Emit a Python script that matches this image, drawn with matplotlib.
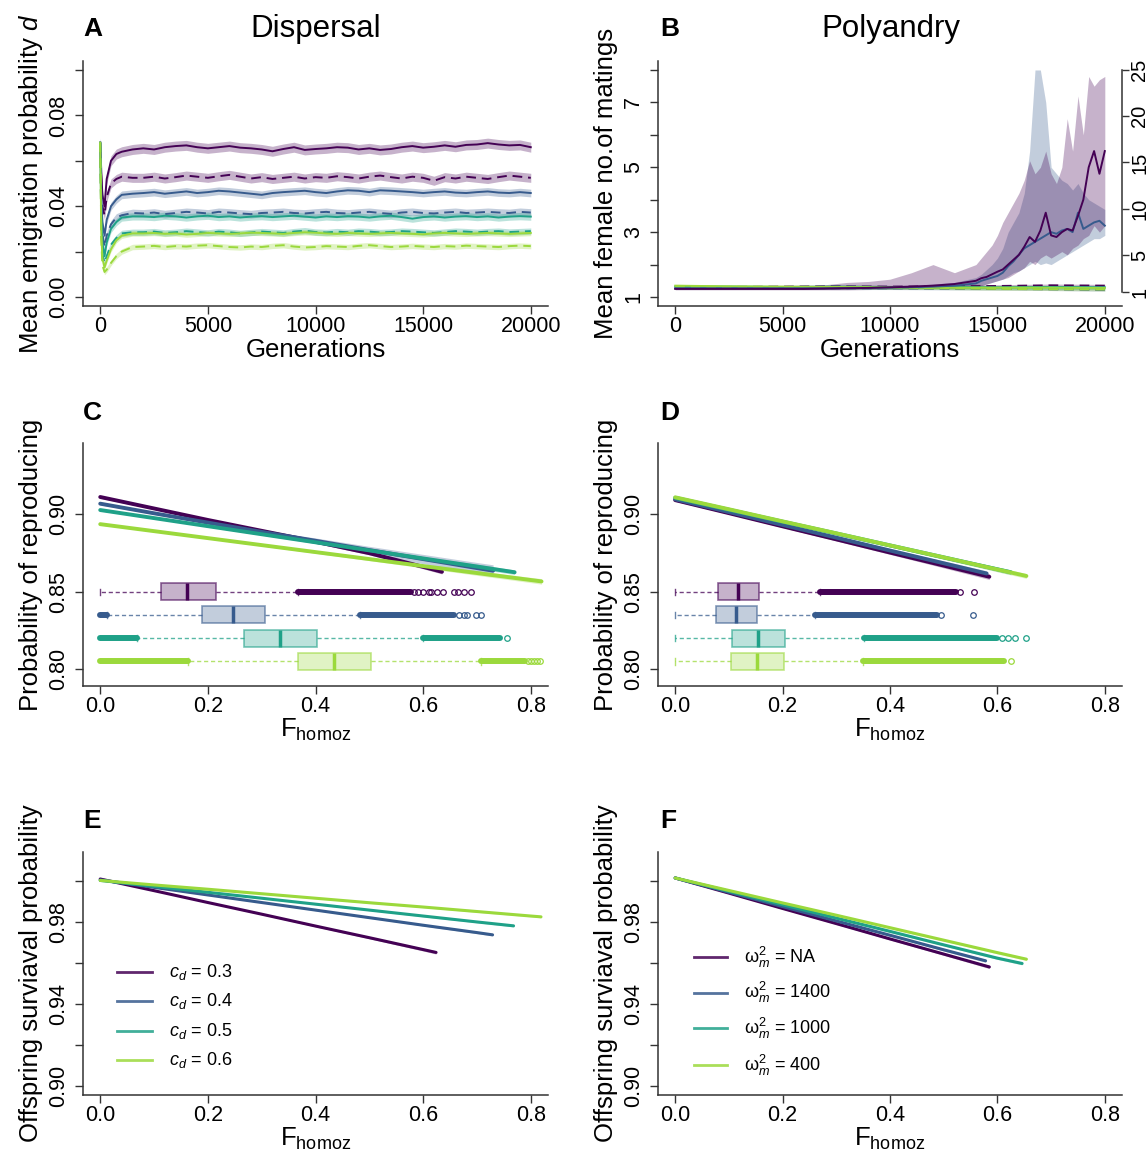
import numpy as np
import matplotlib
matplotlib.use("Agg")
from matplotlib import pyplot as plt
from matplotlib.colors import to_rgba

plt.rcParams['font.family'] = ['Liberation Sans', 'DejaVu Sans']
plt.rcParams['mathtext.fontset'] = 'custom'
plt.rcParams['mathtext.rm'] = 'Liberation Sans'
plt.rcParams['mathtext.it'] = 'Liberation Sans:italic'
plt.rcParams['mathtext.bf'] = 'Liberation Sans:bold'

# ---------------- data ----------------
# Panel A: mean emigration probability d (solid / dashed, one per cost level)
gens_A = [0, 50, 100, 200, 300, 500, 750, 1000, 1500] + list(range(2000, 20001, 500))
emig_solid = [
    [.068, .055, .045, .040, .052, .060, .063, .064, .065,
     .0655, .0650, .0660, .0665, .0668, .0660, .0655, .0660, .0665, .0658,
     .0655, .0650, .0642, .0652, .0660, .0648, .0652, .0655, .0660, .0658,
     .0650, .0655, .0648, .0652, .0660, .0665, .0658, .0662, .0668, .0662,
     .0670, .0672, .0678, .0672, .0668, .0670, .0660],
    [.068, .045, .033, .027, .034, .040, .043, .045, .0455,
     .0458, .0462, .0455, .0460, .0465, .0458, .0462, .0468, .0465, .0460,
     .0455, .0450, .0458, .0462, .0465, .0468, .0462, .0458, .0465, .0470,
     .0468, .0462, .0470, .0468, .0465, .0462, .0458, .0462, .0465, .0460,
     .0458, .0462, .0465, .0460, .0458, .0462, .0458],
    [.068, .035, .024, .018, .024, .030, .033, .035, .0355,
     .0355, .0352, .0358, .0355, .0350, .0355, .0358, .0352, .0355, .0350,
     .0354, .0356, .0352, .0355, .0358, .0354, .0350, .0355, .0352, .0356,
     .0354, .0350, .0355, .0358, .0352, .0345, .0352, .0355, .0350, .0354,
     .0356, .0352, .0355, .0350, .0354, .0356, .0354],
    [.068, .028, .017, .013, .016, .021, .025, .027, .028,
     .0280, .0282, .0278, .0280, .0275, .0278, .0282, .0280, .0278, .0280,
     .0283, .0282, .0280, .0278, .0282, .0285, .0283, .0280, .0278, .0282,
     .0280, .0278, .0280, .0282, .0280, .0278, .0276, .0280, .0282, .0280,
     .0278, .0280, .0282, .0280, .0278, .0280, .0282],
]
emig_dashed = [
    [.068, .050, .040, .036, .044, .050, .052, .053, .0525,
     .0525, .0530, .0522, .0528, .0535, .0530, .0525, .0532, .0538, .0530,
     .0522, .0528, .0520, .0525, .0530, .0522, .0528, .0525, .0532, .0528,
     .0522, .0530, .0535, .0528, .0522, .0530, .0525, .0512, .0528, .0522,
     .0530, .0525, .0520, .0528, .0535, .0530, .0525],
    [.068, .040, .028, .022, .027, .032, .035, .036, .037,
     .0368, .0372, .0365, .0370, .0375, .0372, .0368, .0375, .0372, .0368,
     .0365, .0370, .0372, .0375, .0370, .0368, .0372, .0375, .0370, .0368,
     .0372, .0375, .0370, .0366, .0372, .0375, .0370, .0368, .0372, .0375,
     .0370, .0372, .0375, .0372, .0370, .0375, .0372],
    [.068, .030, .019, .015, .018, .023, .026, .028, .0285,
     .0285, .0288, .0282, .0285, .0290, .0286, .0282, .0288, .0285, .0280,
     .0284, .0288, .0285, .0282, .0288, .0292, .0286, .0284, .0288, .0285,
     .0290, .0288, .0284, .0286, .0290, .0288, .0285, .0282, .0286, .0290,
     .0288, .0285, .0288, .0290, .0286, .0288, .0290],
    [.068, .025, .014, .011, .012, .015, .018, .020, .022,
     .0222, .0225, .0220, .0224, .0222, .0226, .0228, .0224, .0220, .0218,
     .0222, .0220, .0225, .0228, .0222, .0218, .0220, .0224, .0222, .0220,
     .0225, .0228, .0224, .0220, .0222, .0225, .0222, .0220, .0224, .0222,
     .0226, .0224, .0222, .0220, .0224, .0226, .0224],
]
emig_ci_solid = [0.0022, 0.0017, 0.0016, 0.0012]
emig_ci_dashed = [0.0020, 0.0017, 0.0014, 0.0012]

# Panel B: mean female number of matings
gens_B = list(range(0, 14000, 1000)) + list(range(14000, 20001, 250))
mat_purple = [1.25, 1.25, 1.25, 1.25, 1.25, 1.25, 1.25, 1.26, 1.27, 1.28, 1.30, 1.32, 1.35, 1.40,
              1.50, 1.58, 1.62, 1.70, 1.78, 1.85, 2.00, 2.15, 2.30, 2.55, 2.85, 2.70, 3.05, 3.60,
              2.90, 2.85, 3.00, 3.10, 3.05, 3.50, 4.00, 5.00, 5.50, 4.80, 5.50]
mat_purple_hi = [1.28, 1.28, 1.29, 1.30, 1.31, 1.32, 1.33, 1.38, 1.45, 1.48, 1.55, 1.75, 2.00, 1.75,
                 2.00, 2.20, 2.40, 2.60, 2.90, 3.30, 3.60, 3.90, 4.20, 4.60, 5.20, 4.80, 5.00, 5.50,
                 4.80, 4.50, 5.00, 6.50, 5.50, 7.20, 6.00, 7.80, 7.50, 7.70, 7.80]
mat_purple_lo = [1.22, 1.22, 1.22, 1.22, 1.22, 1.22, 1.22, 1.22, 1.22, 1.23, 1.24, 1.25, 1.26, 1.28,
                 1.30, 1.35, 1.40, 1.45, 1.50, 1.55, 1.60, 1.70, 1.80, 1.90, 2.10, 2.00, 2.20, 2.30,
                 2.20, 2.30, 2.40, 2.30, 2.50, 2.60, 2.80, 2.90, 3.20, 3.00, 3.20]
mat_blue = [1.27, 1.27, 1.27, 1.27, 1.27, 1.27, 1.27, 1.27, 1.28, 1.28, 1.29, 1.30, 1.32, 1.35,
            1.42, 1.50, 1.55, 1.60, 1.65, 1.75, 1.95, 2.10, 2.30, 2.50, 2.60, 2.70, 2.80, 2.90,
            3.00, 2.95, 3.05, 3.10, 3.00, 3.60, 3.10, 3.20, 3.30, 3.35, 3.20]
mat_blue_hi = [1.30, 1.30, 1.30, 1.30, 1.30, 1.30, 1.30, 1.30, 1.31, 1.32, 1.33, 1.35, 1.40, 1.45,
               1.60, 1.70, 1.85, 2.00, 2.20, 2.50, 3.00, 3.30, 3.60, 4.20, 5.50, 8.00, 8.00, 7.00,
               5.00, 4.80, 4.60, 4.50, 4.30, 4.50, 4.20, 4.00, 3.90, 3.80, 3.70]
mat_blue_lo = [1.24, 1.24, 1.24, 1.24, 1.24, 1.24, 1.24, 1.24, 1.25, 1.25, 1.25, 1.26, 1.27, 1.28,
               1.30, 1.35, 1.40, 1.45, 1.50, 1.55, 1.65, 1.75, 1.80, 1.90, 2.00, 2.10, 2.00, 2.05,
               2.00, 2.10, 2.20, 2.30, 2.40, 2.50, 2.60, 2.70, 2.80, 2.80, 2.90]
# series that stay flat (purple dashed, blue dashed, teal solid/dashed, lime solid/dashed)
gens_B_flat = [0, 2500, 5000, 7500, 10000, 12500, 15000, 17500, 20000]
mat_flat = [
    [1.30, 1.31, 1.32, 1.33, 1.32, 1.33, 1.34, 1.36, 1.35],
    [1.28, 1.29, 1.28, 1.27, 1.27, 1.26, 1.25, 1.24, 1.22],
    [1.32, 1.32, 1.31, 1.32, 1.31, 1.31, 1.30, 1.31, 1.30],
    [1.30, 1.30, 1.29, 1.30, 1.29, 1.28, 1.28, 1.27, 1.27],
    [1.35, 1.33, 1.32, 1.31, 1.30, 1.29, 1.29, 1.29, 1.28],
    [1.32, 1.31, 1.30, 1.29, 1.28, 1.27, 1.25, 1.24, 1.23],
]
mat_flat_color = [0, 1, 2, 2, 3, 3]
mat_flat_dashed = [True, True, False, True, False, True]
mat_flat_ci = 0.04
right_ticks_B = [1, 5, 10, 15, 20, 25]

# Panel C: probability of reproducing vs F_homoz (dispersal)
repro_x_C = [
    [0, 0.1, 0.2, 0.3, 0.4, 0.5, 0.6, 0.635],
    [0, 0.1, 0.2, 0.3, 0.4, 0.5, 0.6, 0.7, 0.73],
    [0, 0.1, 0.2, 0.3, 0.4, 0.5, 0.6, 0.7, 0.77],
    [0, 0.1, 0.2, 0.3, 0.4, 0.5, 0.6, 0.7, 0.8, 0.82],
]
repro_y_C = [
    [0.9110, 0.9036, 0.8962, 0.8892, 0.8822, 0.8748, 0.8660, 0.8628],
    [0.9067, 0.9005, 0.8945, 0.8885, 0.8828, 0.8768, 0.8710, 0.8652, 0.8635],
    [0.9026, 0.8974, 0.8922, 0.8870, 0.8818, 0.8766, 0.8714, 0.8662, 0.8625],
    [0.8935, 0.8890, 0.8845, 0.8800, 0.8755, 0.8710, 0.8665, 0.8620, 0.8575, 0.8566],
]
repro_ci_C = [
    [0.0008, 0.0006, 0.0006, 0.0007, 0.0009, 0.0011, 0.0013, 0.0014],
    [0.0008, 0.0007, 0.0008, 0.0012, 0.0018, 0.0024, 0.0030, 0.0036, 0.0038],
    [0.0006, 0.0005, 0.0005, 0.0006, 0.0008, 0.0010, 0.0012, 0.0014, 0.0015],
    [0.0006, 0.0005, 0.0005, 0.0006, 0.0008, 0.0010, 0.0012, 0.0015, 0.0017, 0.0018],
]
# boxplots of F_homoz: whisker low, q1, median, q3, whisker high
box_C = [
    [0.000, 0.113, 0.162, 0.215, 0.367],
    [0.012, 0.190, 0.247, 0.307, 0.482],
    [0.069, 0.267, 0.334, 0.403, 0.600],
    [0.164, 0.367, 0.435, 0.504, 0.707],
]
dense_C = [
    [(0.367, 0.577)],
    [(0.0, 0.012), (0.482, 0.658)],
    [(0.0, 0.069), (0.600, 0.742)],
    [(0.0, 0.164), (0.707, 0.790)],
]
sparse_C = [
    [0.583, 0.590, 0.600, 0.610, 0.615, 0.625, 0.637, 0.658, 0.665, 0.675, 0.688],
    [0.666, 0.675, 0.682, 0.698, 0.708],
    [0.756],
    [0.795, 0.800, 0.806, 0.812, 0.817],
]
box_pos = [0.85, 0.835, 0.82, 0.805]

# Panel D: probability of reproducing vs F_homoz (polyandry)
repro_x_D = [
    [0, 0.1, 0.2, 0.3, 0.4, 0.5, 0.585],
    [0, 0.1, 0.2, 0.3, 0.4, 0.5, 0.58],
    [0, 0.1, 0.2, 0.3, 0.4, 0.5, 0.6, 0.625],
    [0, 0.1, 0.2, 0.3, 0.4, 0.5, 0.6, 0.654],
]
repro_y_D = [
    [0.9090, 0.9006, 0.8921, 0.8837, 0.8752, 0.8668, 0.8596],
    [0.9095, 0.9013, 0.8930, 0.8848, 0.8765, 0.8683, 0.8617],
    [0.9105, 0.9028, 0.8951, 0.8875, 0.8798, 0.8721, 0.8644, 0.8625],
    [0.9108, 0.9031, 0.8953, 0.8876, 0.8798, 0.8721, 0.8643, 0.8601],
]
repro_ci_D = [
    [0.0008, 0.0007, 0.0008, 0.0010, 0.0012, 0.0015, 0.0018],
    [0.0008, 0.0007, 0.0008, 0.0010, 0.0012, 0.0015, 0.0017],
    [0.0007, 0.0006, 0.0007, 0.0008, 0.0010, 0.0012, 0.0015, 0.0016],
    [0.0007, 0.0006, 0.0007, 0.0008, 0.0010, 0.0012, 0.0015, 0.0016],
]
box_D = [
    [0.0, 0.080, 0.117, 0.156, 0.270],
    [0.0, 0.076, 0.113, 0.152, 0.260],
    [0.0, 0.105, 0.154, 0.205, 0.351],
    [0.0, 0.103, 0.152, 0.202, 0.349],
]
dense_D = [
    [(0.270, 0.523)],
    [(0.260, 0.487)],
    [(0.351, 0.599)],
    [(0.349, 0.613)],
]
sparse_D = [
    [0.530, 0.556],
    [0.495, 0.554],
    [0.609, 0.620, 0.633, 0.654],
    [0.625],
]

# Panel E: offspring survival probability (dispersal)
surv_x_E = [
    [0, 0.1, 0.2, 0.3, 0.4, 0.5, 0.6, 0.624],
    [0, 0.1, 0.2, 0.3, 0.4, 0.5, 0.6, 0.7, 0.729],
    [0, 0.1, 0.2, 0.3, 0.4, 0.5, 0.6, 0.7, 0.768],
    [0, 0.1, 0.2, 0.3, 0.4, 0.5, 0.6, 0.7, 0.8, 0.819],
]
surv_y_E = [
    [1.0012, 0.9955, 0.9897, 0.9840, 0.9782, 0.9725, 0.9667, 0.9653],
    [1.0008, 0.9971, 0.9934, 0.9897, 0.9860, 0.9823, 0.9786, 0.9750, 0.9739],
    [1.0005, 0.9976, 0.9947, 0.9918, 0.9889, 0.9860, 0.9831, 0.9802, 0.9783],
    [1.0005, 0.9983, 0.9962, 0.9940, 0.9918, 0.9896, 0.9875, 0.9853, 0.9831, 0.9827],
]
surv_ci_E = [
    [0.0003, 0.0002, 0.0002, 0.0003, 0.0004, 0.0005, 0.0007, 0.0008],
    [0.0003, 0.0002, 0.0002, 0.0002, 0.0003, 0.0003, 0.0004, 0.0005, 0.0005],
    [0.0003, 0.0002, 0.0002, 0.0002, 0.0003, 0.0003, 0.0004, 0.0004, 0.0005],
    [0.0003, 0.0002, 0.0002, 0.0002, 0.0003, 0.0003, 0.0003, 0.0004, 0.0004, 0.0005],
]
labels_E = [r'$c_d$ = 0.3', r'$c_d$ = 0.4', r'$c_d$ = 0.5', r'$c_d$ = 0.6']

# Panel F: offspring survival probability (polyandry)
surv_x_F = [
    [0, 0.1, 0.2, 0.3, 0.4, 0.5, 0.585],
    [0, 0.1, 0.2, 0.3, 0.4, 0.5, 0.578],
    [0, 0.1, 0.2, 0.3, 0.4, 0.5, 0.6, 0.646],
    [0, 0.1, 0.2, 0.3, 0.4, 0.5, 0.6, 0.654],
]
surv_y_F = [
    [1.0017, 0.9943, 0.9868, 0.9794, 0.9719, 0.9645, 0.9582],
    [1.0017, 0.9947, 0.9877, 0.9807, 0.9737, 0.9666, 0.9612],
    [1.0017, 0.9952, 0.9886, 0.9821, 0.9756, 0.9690, 0.9625, 0.9599],
    [1.0017, 0.9956, 0.9895, 0.9835, 0.9774, 0.9713, 0.9652, 0.9620],
]
surv_ci_F = [
    [0.0003, 0.0003, 0.0003, 0.0004, 0.0005, 0.0006, 0.0008],
    [0.0003, 0.0003, 0.0003, 0.0004, 0.0005, 0.0006, 0.0007],
    [0.0003, 0.0003, 0.0003, 0.0004, 0.0005, 0.0005, 0.0006, 0.0007],
    [0.0003, 0.0003, 0.0003, 0.0004, 0.0005, 0.0005, 0.0006, 0.0007],
]
labels_F = [r'$\mathrm{\omega}^2_m$ = NA', r'$\mathrm{\omega}^2_m$ = 1400',
            r'$\mathrm{\omega}^2_m$ = 1000', r'$\mathrm{\omega}^2_m$ = 400']

# ---------------- style ----------------
colors = [plt.cm.viridis(v) for v in (0.0, 0.283, 0.567, 0.85)]
AXC = '#333333'
TICK_FS = 15.5
LAB_FS = 18.5
W, H = 1147, 1151


def make_axes(fig, left, top, right, bottom):
    ax = fig.add_axes([left / W, 1 - bottom / H, (right - left) / W, (bottom - top) / H])
    for s in ['top', 'right']:
        ax.spines[s].set_visible(False)
    for s in ['left', 'bottom']:
        ax.spines[s].set_color(AXC)
        ax.spines[s].set_linewidth(1.1)
    ax.tick_params(direction='out', length=6, width=1.0, color=AXC, labelsize=TICK_FS)
    ax.tick_params(axis='x', pad=1.5)
    ax.tick_params(axis='y', pad=4)
    ax.w_px = right - left
    ax.h_px = bottom - top
    return ax


def finish_axes(ax, xlim, xticks, xticklabels, ylim, yticks, yticklabels, xlabel, ylabel,
                xlab_top):
    ax.set_xlim(*xlim)
    ax.set_ylim(*ylim)
    ax.set_xticks(xticks, xticklabels)
    ax.set_yticks(yticks, yticklabels)
    plt.setp(ax.get_yticklabels(), rotation=90, va='center')
    # x label hangs below the tick labels, y label sits at a fixed distance from the axis
    ax.set_xlabel(xlabel, fontsize=LAB_FS, va='top')
    ax.xaxis.set_label_coords(0.5, -xlab_top / ax.h_px)
    ax.set_ylabel(ylabel, fontsize=LAB_FS, va='center')
    ax.yaxis.set_label_coords(-52 / ax.w_px, 0.5)


def draw_trends(ax, xs, ys, cis, lw):
    for x, y, ci, c in zip(xs, ys, cis, colors):
        y = np.asarray(y)
        ci = np.asarray(ci)
        ax.fill_between(x, y - ci, y + ci, color=c, alpha=0.3, lw=0)
    for x, y, c in zip(xs, ys, colors):
        ax.plot(x, y, color=c, lw=lw, solid_capstyle='round')


def draw_boxes(ax, stats, dense, sparse):
    for st, runs, pts, pos, c in zip(stats, dense, sparse, box_pos, colors):
        lo, q1, med, q3, hi = st
        bx = dict(whislo=lo, q1=q1, med=med, q3=q3, whishi=hi, fliers=[])
        ax.bxp([bx], positions=[pos], widths=0.011, orientation='horizontal',
               patch_artist=True, showfliers=False, manage_ticks=False, capwidths=0.004,
               boxprops=dict(facecolor=to_rgba(c, 0.3), edgecolor=to_rgba(c, 0.6), linewidth=1.2),
               medianprops=dict(color=c, lw=2.5, solid_capstyle='butt'),
               whiskerprops=dict(color=to_rgba(c, 0.75), lw=1.0, ls=(0, (3, 2))),
               capprops=dict(color=to_rgba(c, 0.75), lw=1.0))
        # long runs of overlapping outliers look like a thick bar
        for x0, x1 in runs:
            ax.plot([x0, x1], [pos, pos], color=c, lw=4.3, solid_capstyle='round')
        ax.plot(pts, [pos] * len(pts), 'o', ms=4, mfc='none', mec=c, mew=0.9)


def draw_legend(ax, labels, x0, x1, xt, rows):
    for lab, y, c in zip(labels, rows, colors):
        ax.plot([x0, x1], [y, y], transform=ax.transAxes, color=c, lw=2, alpha=0.85,
                clip_on=False)
        ax.text(xt, y, lab, transform=ax.transAxes, fontsize=13, va='center', ha='left')


fig = plt.figure(figsize=(W / 100, H / 100), dpi=100)

gen_ticks = [0, 5000, 10000, 15000, 20000]
gen_labels = ['0', '5000', '10000', '15000', '20000']
f_ticks = [0.0, 0.2, 0.4, 0.6, 0.8]
f_labels = ['0.0', '0.2', '0.4', '0.6', '0.8']
f_label = r'$\mathrm{F_{homoz}}$'

# ---- A ----
axA = make_axes(fig, 83, 61, 548, 306)
for i in range(4):
    for ys, ci in ((emig_solid[i], emig_ci_solid[i]), (emig_dashed[i], emig_ci_dashed[i])):
        y = np.asarray(ys)
        axA.fill_between(gens_A, y - ci, y + ci, color=colors[i], alpha=0.3, lw=0)
for i in range(4):
    axA.plot(gens_A, emig_solid[i], color=colors[i], lw=1.4)
    axA.plot(gens_A, emig_dashed[i], color=colors[i], lw=1.4, dashes=(5, 3))
finish_axes(axA, (-800, 20800), gen_ticks, gen_labels, (-0.004, 0.104),
            [0, 0.02, 0.04, 0.06, 0.08, 0.10], ['0.00', '', '0.04', '', '0.08', ''],
            'Generations', r'Mean emigration probability $d$', 32)

# ---- B ----
axB = make_axes(fig, 658, 61, 1122, 306)
for lo, hi, c in ((mat_blue_lo, mat_blue_hi, colors[1]), (mat_purple_lo, mat_purple_hi, colors[0])):
    axB.fill_between(gens_B, lo, hi, color=c, alpha=0.3, lw=0)
for ys, ci_c in zip(mat_flat, mat_flat_color):
    y = np.asarray(ys)
    axB.fill_between(gens_B_flat, y - mat_flat_ci, y + mat_flat_ci, color=colors[ci_c],
                     alpha=0.3, lw=0)
for ys, ci_c, dashed in zip(mat_flat, mat_flat_color, mat_flat_dashed):
    if dashed:
        axB.plot(gens_B_flat, ys, color=colors[ci_c], lw=1.4, dashes=(5, 3))
    else:
        axB.plot(gens_B_flat, ys, color=colors[ci_c], lw=1.4)
axB.plot(gens_B, mat_blue, color=colors[1], lw=1.4)
axB.plot(gens_B, mat_purple, color=colors[0], lw=1.4)
finish_axes(axB, (-800, 20800), gen_ticks, gen_labels, (0.723, 8.277),
            [1, 2, 3, 4, 5, 6, 7, 8], ['1', '', '3', '', '5', '', '7', ''],
            'Generations', 'Mean female no.of matings', 32)
axR = axB.twinx()
axR.set_ylim(-0.51, 25.97)
axR.set_yticks(right_ticks_B, [str(t) for t in right_ticks_B])
for s in ['top', 'left', 'bottom']:
    axR.spines[s].set_visible(False)
axR.spines['right'].set_bounds(1, 25)
axR.spines['right'].set_color(AXC)
axR.spines['right'].set_linewidth(1.1)
axR.tick_params(direction='out', length=5, width=1.0, color=AXC, labelsize=TICK_FS - 1, pad=1)
plt.setp(axR.get_yticklabels(), rotation=90, va='center')

# ---- C ----
axC = make_axes(fig, 83, 443, 548, 686)
draw_trends(axC, repro_x_C, repro_y_C, repro_ci_C, 2.8)
draw_boxes(axC, box_C, dense_C, sparse_C)
finish_axes(axC, (-0.032, 0.832), f_ticks, f_labels, (0.7892, 0.9458),
            [0.80, 0.85, 0.90], ['0.80', '0.85', '0.90'], f_label,
            'Probability of reproducing', 31)

# ---- D ----
axD = make_axes(fig, 658, 443, 1122, 686)
draw_trends(axD, repro_x_D, repro_y_D, repro_ci_D, 2.8)
draw_boxes(axD, box_D, dense_D, sparse_D)
finish_axes(axD, (-0.032, 0.832), f_ticks, f_labels, (0.7892, 0.9458),
            [0.80, 0.85, 0.90], ['0.80', '0.85', '0.90'], f_label,
            'Probability of reproducing', 31)

# ---- E ----
surv_ticks = [0.90, 0.92, 0.94, 0.96, 0.98, 1.00]
surv_labels = ['0.90', '', '0.94', '', '0.98', '']
axE = make_axes(fig, 83, 852, 548, 1095)
draw_trends(axE, surv_x_E, surv_y_E, surv_ci_E, 2.2)
finish_axes(axE, (-0.032, 0.832), f_ticks, f_labels, (0.8956, 1.0144),
            surv_ticks, surv_labels, f_label, 'Offspring surviaval probability', 31)
draw_legend(axE, labels_E, 0.073, 0.148, 0.185, [0.508, 0.385, 0.264, 0.143])

# ---- F ----
axF = make_axes(fig, 658, 852, 1122, 1095)
draw_trends(axF, surv_x_F, surv_y_F, surv_ci_F, 2.2)
finish_axes(axF, (-0.032, 0.832), f_ticks, f_labels, (0.8956, 1.0144),
            surv_ticks, surv_labels, f_label, 'Offspring surviaval probability', 31)
draw_legend(axF, labels_F, 0.078, 0.149, 0.185, [0.568, 0.420, 0.274, 0.123])

# panel letters and column titles
for letter, x, y in (('A', 83, 36.5), ('B', 660, 36.5), ('C', 83, 420),
                     ('D', 660, 420), ('E', 83, 828), ('F', 660, 828)):
    fig.text(x / W, 1 - y / H, letter, fontsize=19, fontweight='bold', ha='left', va='baseline')
fig.text(316 / W, 1 - 37 / H, 'Dispersal', fontsize=22.5, ha='center', va='baseline')
fig.text(891 / W, 1 - 37 / H, 'Polyandry', fontsize=22.5, ha='center', va='baseline')

fig.savefig('out.png', dpi=100)
